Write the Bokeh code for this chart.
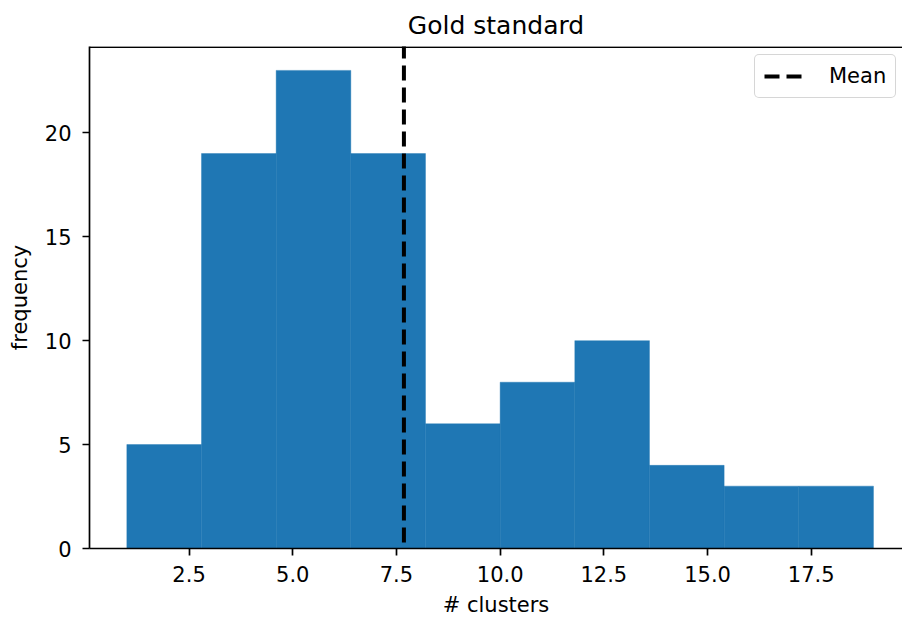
from bokeh.plotting import figure
from bokeh.models import Range1d, FixedTicker, Span, Legend, LegendItem
from bokeh.embed import file_html
from bokeh.resources import INLINE

# ---- data ----
bin_edges = [1.0, 2.8, 4.6, 6.4, 8.2, 10.0, 11.8, 13.6, 15.4, 17.2, 19.0]
counts = [5, 19, 23, 19, 6, 8, 10, 4, 3, 3]
mean_value = 7.68
x_ticks = [2.5, 5.0, 7.5, 10.0, 12.5, 15.0, 17.5]
x_tick_labels = ["2.5", "5.0", "7.5", "10.0", "12.5", "15.0", "17.5"]
y_ticks = [0, 5, 10, 15, 20]
y_tick_labels = ["0", "5", "10", "15", "20"]
title_text = "Gold standard"
x_label = "# clusters"
y_label = "frequency"

FONT = "DejaVu Sans"
BLUE = "#1f77b4"

p = figure(width=902, height=621, output_backend="svg", toolbar_location=None,
           x_range=Range1d(0.1, 19.70), y_range=Range1d(0, 24.15),
           min_border_left=89, min_border_right=0, min_border_top=46,
           min_border_bottom=73)
p.background_fill_color = "white"
p.border_fill_color = "white"
p.outline_line_color = None
p.grid.visible = False

p.title.text = title_text
p.title.text_font = FONT
p.title.text_font_size = "25px"
p.title.text_font_style = "normal"
p.title.text_color = "black"
p.title.align = "center"
p.title.standoff = 13
p.title.offset = 4

p.quad(left=bin_edges[:-1], right=bin_edges[1:], top=counts, bottom=0,
       fill_color=BLUE, line_color=BLUE, line_width=0.4)

mean_r = p.segment(x0=[mean_value], y0=[-5], x1=[mean_value], y1=[40],
                   line_color="black", line_width=4, line_dash="15 7")

p.add_layout(Span(location=24.12, dimension="width", line_color="black",
                  line_width=1.7))

for ax in (p.xaxis[0], p.yaxis[0]):
    ax.axis_line_width = 1.7
    ax.axis_line_color = "black"
    ax.major_tick_line_width = 1.7
    ax.major_tick_line_color = "black"
    ax.major_tick_out = 7
    ax.major_tick_in = 0
    ax.minor_tick_line_color = None
    ax.major_label_text_font = FONT
    ax.major_label_text_font_size = "21px"
    ax.major_label_text_color = "black"
    ax.axis_label_text_font = FONT
    ax.axis_label_text_font_size = "21px"
    ax.axis_label_text_font_style = "normal"
    ax.axis_label_text_color = "black"

p.xaxis.ticker = FixedTicker(ticks=x_ticks)
p.xaxis.major_label_overrides = dict(zip(x_ticks, x_tick_labels))
p.yaxis.ticker = FixedTicker(ticks=y_ticks)
p.yaxis.major_label_overrides = dict(zip(y_ticks, y_tick_labels))
p.xaxis.axis_label = x_label
p.yaxis.axis_label = y_label
p.xaxis.major_label_standoff = 10
p.xaxis.axis_label_standoff = 8
p.yaxis.major_label_standoff = 11
p.yaxis.axis_label_standoff = 10

legend = Legend(items=[LegendItem(label="Mean", renderers=[mean_r])],
                location=(665, 450))
legend.label_text_font = FONT
legend.label_text_font_size = "21px"
legend.label_text_color = "black"
legend.glyph_width = 42
legend.glyph_height = 22
legend.label_standoff = 23
legend.padding = 9
legend.spacing = 0
legend.border_line_color = "#cccccc"
legend.border_line_width = 1.7
legend.border_line_alpha = 0.8
legend.background_fill_alpha = 0.8
if "border_radius" in Legend.properties():
    legend.border_radius = 5
p.add_layout(legend)

open("out.html", "w").write(file_html(p, INLINE))
